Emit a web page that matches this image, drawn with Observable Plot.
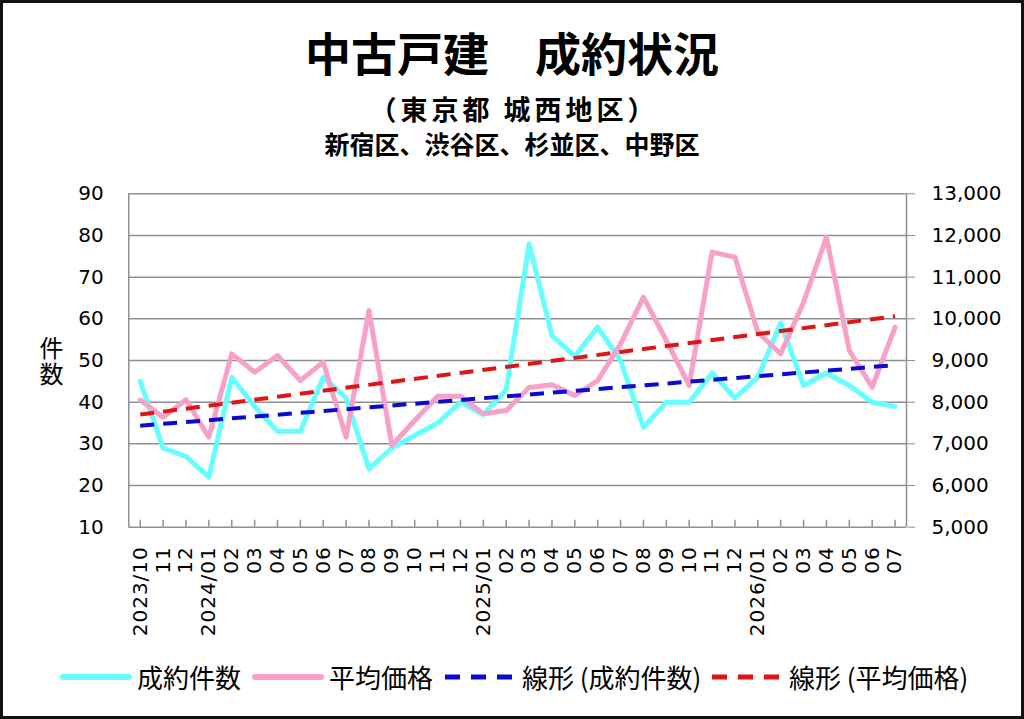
<!DOCTYPE html>
<html>
<head>
<meta charset="utf-8">
<script src="https://cdn.jsdelivr.net/npm/d3@7"></script>
<script src="https://cdn.jsdelivr.net/npm/@observablehq/plot@0.6"></script>
<style>
  body { margin: 0; background: #fff; }
  #wrap { position: relative; width: 1024px; height: 719px; overflow: hidden; background: #fff;
          font-family: "Noto Sans CJK JP", "Noto Sans", sans-serif; color: #000; }
  #frame { position: absolute; left: 0; top: 0; width: 1024px; height: 719px; box-sizing: border-box;
           border: 3px solid #111; pointer-events: none; }
  .t { position: absolute; left: 0; width: 1024px; text-align: center; font-weight: 700; white-space: nowrap; }
  #title { top: 28px; font-size: 46px; line-height: 46px; }
  #sub1 { top: 95px; font-size: 27px; line-height: 27px; letter-spacing: 4px; text-indent: 4px; }
  #sub2 { top: 131px; font-size: 25px; line-height: 25px; }
  #ylab { position: absolute; left: 38px; top: 336px; width: 26px; height: 52px; font-size: 24px; line-height: 26px;
          writing-mode: vertical-rl; letter-spacing: 2px; white-space: nowrap; }
  #chart { position: absolute; left: 0; top: 173px; }
  #chart g[aria-label="x-axis tick label"] text { letter-spacing: 1px; }
  .lg { position: absolute; top: 657px; height: 40px; display: flex; align-items: center; white-space: nowrap; }
  .lg span { font-size: 26px; line-height: 40px; margin-left: 5px; }
</style>
</head>
<body>
<div id="wrap">
  <div class="t" id="title">中古戸建　成約状況</div>
  <div class="t" id="sub1">（東京都 城西地区）</div>
  <div class="t" id="sub2">新宿区、渋谷区、杉並区、中野区</div>
  <div id="ylab">件数</div>
  <div id="chart"></div>
  <div id="frame"></div>
</div>
<script>
// ---- data ----
const months = ["2023/10","11","12","2024/01","02","03","04","05","06","07","08","09","10","11","12",
  "2025/01","02","03","04","05","06","07","08","09","10","11","12",
  "2026/01","02","03","04","05","06","07"];
const counts = [45,29,27,22,46,39,33,33,46,41,24,29,32,35,40,37,43,78,56,51,58,50,34,40,40,47,41,46,59,44,47,44,40,39];
const prices = [8050,7640,8060,7160,9160,8720,9120,8520,8960,7160,10200,6960,7560,8140,8140,7720,7800,8350,8420,8160,8520,9400,10520,9480,8400,11600,11480,9680,9160,10400,11960,9240,8360,9800];
const leftTicks = [10,20,30,40,50,60,70,80,90];
const rightTicks = [5000,6000,7000,8000,9000,10000,11000,12000,13000];
const seriesNames = ["成約件数","平均価格","線形 (成約件数)","線形 (平均価格)"];

// ---- styles ----
const colors = ["#66ffff", "#f7a1c9", "#0a0ad0", "#e01414"];
const grid = "#8f8f8f";

// map the right axis (price) onto the left axis domain
const leftMin = leftTicks[0], leftMax = leftTicks[leftTicks.length - 1];
const rightMin = rightTicks[0], rightMax = rightTicks[rightTicks.length - 1];
const toLeft = p => leftMin + (p - rightMin) * (leftMax - leftMin) / (rightMax - rightMin);

const idx = months.map((_, i) => i);
const rows = idx.map(i => ({ i, count: counts[i], priceL: toLeft(prices[i]) }));

const W = 1024, H = 480, mTop = 20.3, mBottom = 126.3, mLeft = 128.3, mRight = 118;
const plotH = H - mTop - mBottom;

const chart = Plot.plot({
  width: W, height: H,
  marginTop: mTop, marginBottom: mBottom, marginLeft: mLeft, marginRight: mRight,
  x: { type: "linear", domain: [-0.5, months.length - 0.5], label: null },
  y: { domain: [leftMin, leftMax], label: null },
  style: { fontFamily: "DejaVu Sans", fontSize: "20px", color: "#000", background: "transparent", overflow: "visible" },
  marks: [
    Plot.gridY(leftTicks, { stroke: grid, strokeOpacity: 1, strokeWidth: 1.5 }),
    Plot.ruleX([-0.5, months.length - 0.5], { stroke: grid, strokeWidth: 1.5 }),
    Plot.tickX(idx, { x: d => d, stroke: grid, strokeWidth: 1.5, insetTop: plotH - 7 }),
    Plot.axisY(leftTicks, { anchor: "left", tickSize: 0, tickPadding: 25, fontSize: 20, label: null }),
    Plot.axisY(leftTicks, { anchor: "right", tickSize: 8, tickPadding: 17, stroke: grid, fontSize: 20, label: null,
      tickFormat: d => d3.format(",")(rightTicks[leftTicks.indexOf(d)]) }),
    Plot.axisX(idx, { anchor: "bottom", tickSize: 0, tickPadding: 19, tickRotate: -90, fontSize: 20, label: null,
      tickFormat: i => months[i] }),
    Plot.line(rows, { x: "i", y: "count", stroke: colors[0], strokeWidth: 5 }),
    Plot.line(rows, { x: "i", y: "priceL", stroke: colors[1], strokeWidth: 5 }),
    Plot.linearRegressionY(rows, { x: "i", y: "count", stroke: colors[2], strokeWidth: 4, strokeDasharray: "14,9", strokeLinecap: "butt", ci: 0 }),
    Plot.linearRegressionY(rows, { x: "i", y: "priceL", stroke: colors[3], strokeWidth: 4, strokeDasharray: "14,9", strokeLinecap: "butt", ci: 0 })
  ]
});
document.getElementById("chart").appendChild(chart);

// ---- legend ----
const legendLeft = [60, 252, 445, 712];
const wrap = document.getElementById("wrap");
const frame = document.getElementById("frame");
seriesNames.forEach((name, k) => {
  const item = document.createElement("div");
  item.className = "lg";
  item.style.left = legendLeft[k] + "px";
  const dashed = k >= 2;
  item.innerHTML =
    `<svg width="72" height="12"><line x1="${dashed ? 0 : 3}" x2="${dashed ? 72 : 69}" y1="6" y2="6" stroke="${colors[k]}" stroke-width="${dashed ? 5 : 6}" ${dashed ? 'stroke-dasharray="15,11"' : 'stroke-linecap="round"'}/></svg><span>${name}</span>`;
  wrap.insertBefore(item, frame);
});
</script>
</body>
</html>
